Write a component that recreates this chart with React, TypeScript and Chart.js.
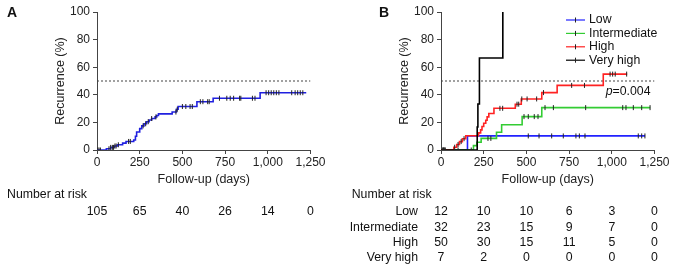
import React, { useEffect, useRef } from 'react';
import { Chart, registerables } from 'chart.js';

Chart.register(...registerables);

const FONT = "'Liberation Sans', Arial, Helvetica, sans-serif";

// ---------- shared ----------
const X_TICKS = [0, 250, 500, 750, 1000, 1250];
const X_TITLE = 'Follow-up (days)';
const Y_TITLE = 'Recurrence (%)';
const REF_LINE = 50;
const RISK_TITLE = 'Number at risk';

// ---------- Panel A (all patients) ----------
const A_TIMES = [0, 55, 80, 100, 120, 150, 170, 215, 225, 232, 250, 262, 275, 290, 305, 320, 340, 350, 360, 440, 465, 475, 585, 680, 955, 1225];
const A_REC = [0, 0.9, 1.9, 2.9, 3.8, 5.0, 6.2, 7.2, 10, 13, 15.5, 17.5, 19, 20.5, 21.7, 22.8, 24, 25, 26.2, 27.5, 29.5, 31.5, 35, 37.5, 41.5, 41.5];
const A_CENSOR = [5, 12, 20, 70, 80, 90, 97, 105, 112, 125, 185, 195, 270, 285, 300, 320, 345, 462, 470, 500, 520, 545, 558, 605, 620, 648, 657, 717, 760, 780, 800, 835, 842, 910, 925, 990, 1005, 1020, 1035, 1050, 1065, 1140, 1160, 1175, 1190, 1205];
const A_AT_RISK = [105, 65, 40, 26, 14, 0];

// ---------- Panel B (risk groups) ----------
const B_GROUPS = ['Low', 'Intermediate', 'High', 'Very high'];

const LOW_TIMES = [0, 155, 1195];
const LOW_REC = [0, 10.2, 10.2];
const LOW_CENSOR = [12, 22, 511, 574, 648, 716, 790, 810, 843, 1155, 1175, 1194];

const INT_TIMES = [0, 190, 210, 235, 325, 355, 475, 590, 1225];
const INT_REC = [0, 3.2, 5.6, 8.4, 12.9, 18.3, 24.2, 30.7, 30.7];
const INT_CENSOR = [177, 275, 292, 486, 511, 546, 568, 609, 658, 847, 1064, 1083, 1126, 1175, 1224];

const HIGH_TIMES = [0, 75, 92, 108, 125, 145, 220, 232, 240, 250, 262, 270, 280, 310, 435, 470, 590, 680, 950, 1090];
const HIGH_REC = [0, 2, 4, 6.1, 8.2, 10.3, 12.4, 14.6, 17, 19.4, 21.6, 24, 26.4, 30.2, 33.2, 37, 41.6, 46.8, 55, 55];
const HIGH_CENSOR = [10, 18, 25, 80, 100, 118, 135, 345, 361, 445, 455, 473, 504, 560, 600, 765, 840, 990, 1005, 1020, 1087];

const VH_TIMES = [0, 212, 216, 225, 362];
const VH_REC = [0, 16.7, 33.3, 66.7, 100];
const VH_CENSOR = [15, 100];

const B_AT_RISK_LOW = [12, 10, 10, 6, 3, 0];
const B_AT_RISK_INT = [32, 23, 15, 9, 7, 0];
const B_AT_RISK_HIGH = [50, 30, 15, 11, 5, 0];
const B_AT_RISK_VH = [7, 2, 0, 0, 0, 0];
const P_VALUE = '0.004';

const COLORS = ['#2222ff', '#33cc33', '#ff2222', '#000000'];
const A_COLOR = '#2020e0';
const CENSOR_COLOR = '#222222';

function stepAt(times: number[], rec: number[], t: number) {
  let v = rec[0];
  for (let i = 0; i < times.length; i++) if (times[i] <= t) v = rec[i];
  return v;
}

type Series = { label: string; times: number[]; rec: number[]; censor: number[]; color: string };
type RiskRow = { label: string; values: number[] };

function buildDatasets(series: Series[]) {
  const ds: any[] = [];
  series.forEach((s) => {
    ds.push({
      label: s.label + ' censored',
      data: s.censor.map((t) => ({ x: t, y: stepAt(s.times, s.rec, t) })),
      showLine: false,
      pointStyle: 'line',
      rotation: 90,
      pointRadius: 2.5,
      borderColor: CENSOR_COLOR,
      backgroundColor: CENSOR_COLOR,
      borderWidth: 1,
    });
  });
  [...series].reverse().forEach((s) => {
    ds.push({
      label: s.label,
      data: s.times.map((t, i) => ({ x: t, y: s.rec[i] })),
      showLine: true,
      stepped: 'before',
      borderColor: s.color,
      backgroundColor: s.color,
      borderWidth: 1.6,
      pointRadius: 0,
      fill: false,
    });
  });
  ds.push({
    label: 'ref',
    data: [{ x: X_TICKS[0], y: REF_LINE }, { x: X_TICKS[X_TICKS.length - 1], y: REF_LINE }],
    showLine: true,
    borderColor: '#444444',
    borderWidth: 1,
    borderDash: [2, 2],
    pointRadius: 0,
  });
  return ds;
}

type PanelOpts = {
  series: Series[];
  letter: string;
  letterX: number;
  riskX: number;
  rows: RiskRow[];
  legend: boolean;
  pText?: string;
  padLeft: number;
  padRight: number;
};

function makeChart(canvas: HTMLCanvasElement, o: PanelOpts) {
  const annot = {
    id: 'annot',
    afterDraw(chart: any) {
      const ctx = chart.ctx as CanvasRenderingContext2D;
      const xs = chart.scales.x;
      const area = chart.chartArea;
      ctx.save();
      ctx.fillStyle = '#111';
      ctx.textBaseline = 'middle';
      ctx.font = `bold 14px ${FONT}`;
      ctx.textAlign = 'left';
      ctx.fillText(o.letter, o.letterX, 13);
      ctx.font = `12.3px ${FONT}`;
      ctx.fillText(RISK_TITLE, o.riskX, 195);
      o.rows.forEach((r, ri) => {
        const y = 212 + ri * 15.3;
        if (r.label) {
          ctx.textAlign = 'right';
          ctx.fillText(r.label, area.left - 23, y);
        }
        ctx.textAlign = 'center';
        r.values.forEach((v, i) => {
          ctx.fillText(String(v), xs.getPixelForValue(X_TICKS[i]), y);
        });
      });
      if (o.legend) {
        o.series.forEach((s, i) => {
          const y = 20 + i * 13.4;
          const x0 = area.left + 125;
          ctx.strokeStyle = s.color;
          ctx.lineWidth = 1.2;
          ctx.beginPath();
          ctx.moveTo(x0, y);
          ctx.lineTo(x0 + 19, y);
          ctx.stroke();
          ctx.strokeStyle = CENSOR_COLOR;
          ctx.lineWidth = 1;
          ctx.beginPath();
          ctx.moveTo(x0 + 9.5, y - 2.5);
          ctx.lineTo(x0 + 9.5, y + 2.5);
          ctx.stroke();
          ctx.fillStyle = '#111';
          ctx.textAlign = 'left';
          ctx.font = `12.3px ${FONT}`;
          ctx.fillText(s.label, x0 + 23, y);
        });
      }
      if (o.pText) {
        ctx.font = `12.3px ${FONT}`;
        ctx.textAlign = 'right';
        const rest = '=' + o.pText;
        const xr = area.right - 4;
        const y = 92;
        ctx.fillText(rest, xr, y);
        const w = ctx.measureText(rest).width;
        ctx.font = `italic 12.3px ${FONT}`;
        ctx.fillText('p', xr - w, y);
      }
      ctx.restore();
    },
  };

  return new Chart(canvas, {
    type: 'scatter',
    data: { datasets: buildDatasets(o.series) },
    options: {
      responsive: false,
      maintainAspectRatio: false,
      animation: false,
      events: [],
      layout: { padding: { left: o.padLeft, right: o.padRight, top: 12, bottom: 81.5 } },
      plugins: { legend: { display: false }, tooltip: { enabled: false } },
      scales: {
        x: {
          type: 'linear',
          min: X_TICKS[0],
          max: X_TICKS[X_TICKS.length - 1],
          afterBuildTicks: (s: any) => {
            s.ticks = X_TICKS.map((v) => ({ value: v }));
          },
          ticks: {
            font: { family: FONT, size: 12 },
            color: '#222',
            padding: 1,
            maxRotation: 0,
            autoSkip: false,
            callback: (v: any) => Number(v).toLocaleString('en-US'),
          },
          grid: { drawOnChartArea: false, drawTicks: true, tickLength: 4, color: '#444', tickWidth: 1 },
          border: { color: '#444', width: 1 },
          title: {
            display: true,
            text: X_TITLE,
            font: { family: FONT, size: 12.5 },
            color: '#222',
            padding: { top: 0, bottom: 0 },
          },
          afterFit: (s: any) => {
            s.height = 37.5;
          },
        },
        y: {
          type: 'linear',
          min: 0,
          max: 100,
          ticks: { stepSize: 20, font: { family: FONT, size: 12 }, color: '#222', padding: 3 },
          grid: { drawOnChartArea: false, drawTicks: true, tickLength: 4, color: '#444', tickWidth: 1 },
          border: { color: '#444', width: 1 },
          title: {
            display: true,
            text: Y_TITLE,
            font: { family: FONT, size: 12.5 },
            color: '#222',
            padding: { top: 53.5, bottom: 0 },
          },
          afterFit: (s: any) => {
            s.width = 97;
          },
        },
      },
    },
    plugins: [annot],
  } as any);
}

export default function App() {
  const refA = useRef<HTMLCanvasElement>(null);
  const refB = useRef<HTMLCanvasElement>(null);

  useEffect(() => {
    const a = makeChart(refA.current!, {
      series: [{ label: 'All', times: A_TIMES, rec: A_REC, censor: A_CENSOR, color: A_COLOR }],
      letter: 'A',
      letterX: 7,
      riskX: 7,
      rows: [{ label: '', values: A_AT_RISK }],
      legend: false,
      padLeft: 0,
      padRight: 28.5,
    });
    const b = makeChart(refB.current!, {
      series: [
        { label: B_GROUPS[0], times: LOW_TIMES, rec: LOW_REC, censor: LOW_CENSOR, color: COLORS[0] },
        { label: B_GROUPS[1], times: INT_TIMES, rec: INT_REC, censor: INT_CENSOR, color: COLORS[1] },
        { label: B_GROUPS[2], times: HIGH_TIMES, rec: HIGH_REC, censor: HIGH_CENSOR, color: COLORS[2] },
        { label: B_GROUPS[3], times: VH_TIMES, rec: VH_REC, censor: VH_CENSOR, color: COLORS[3] },
      ],
      letter: 'B',
      letterX: 40,
      riskX: 12.7,
      rows: [
        { label: B_GROUPS[0], values: B_AT_RISK_LOW },
        { label: B_GROUPS[1], values: B_AT_RISK_INT },
        { label: B_GROUPS[2], values: B_AT_RISK_HIGH },
        { label: B_GROUPS[3], values: B_AT_RISK_VH },
      ],
      legend: true,
      pText: P_VALUE,
      padLeft: 5,
      padRight: 22.5,
    });
    return () => {
      a.destroy();
      b.destroy();
    };
  }, []);

  return (
    <div style={{ position: 'fixed', left: 0, top: 0, width: 677, height: 269, background: '#fff', overflow: 'hidden' }}>
      <canvas ref={refA} width={339} height={269} style={{ position: 'absolute', left: 0, top: 0, width: 339, height: 269 }} />
      <canvas ref={refB} width={338} height={269} style={{ position: 'absolute', left: 339, top: 0, width: 338, height: 269 }} />
    </div>
  );
}
